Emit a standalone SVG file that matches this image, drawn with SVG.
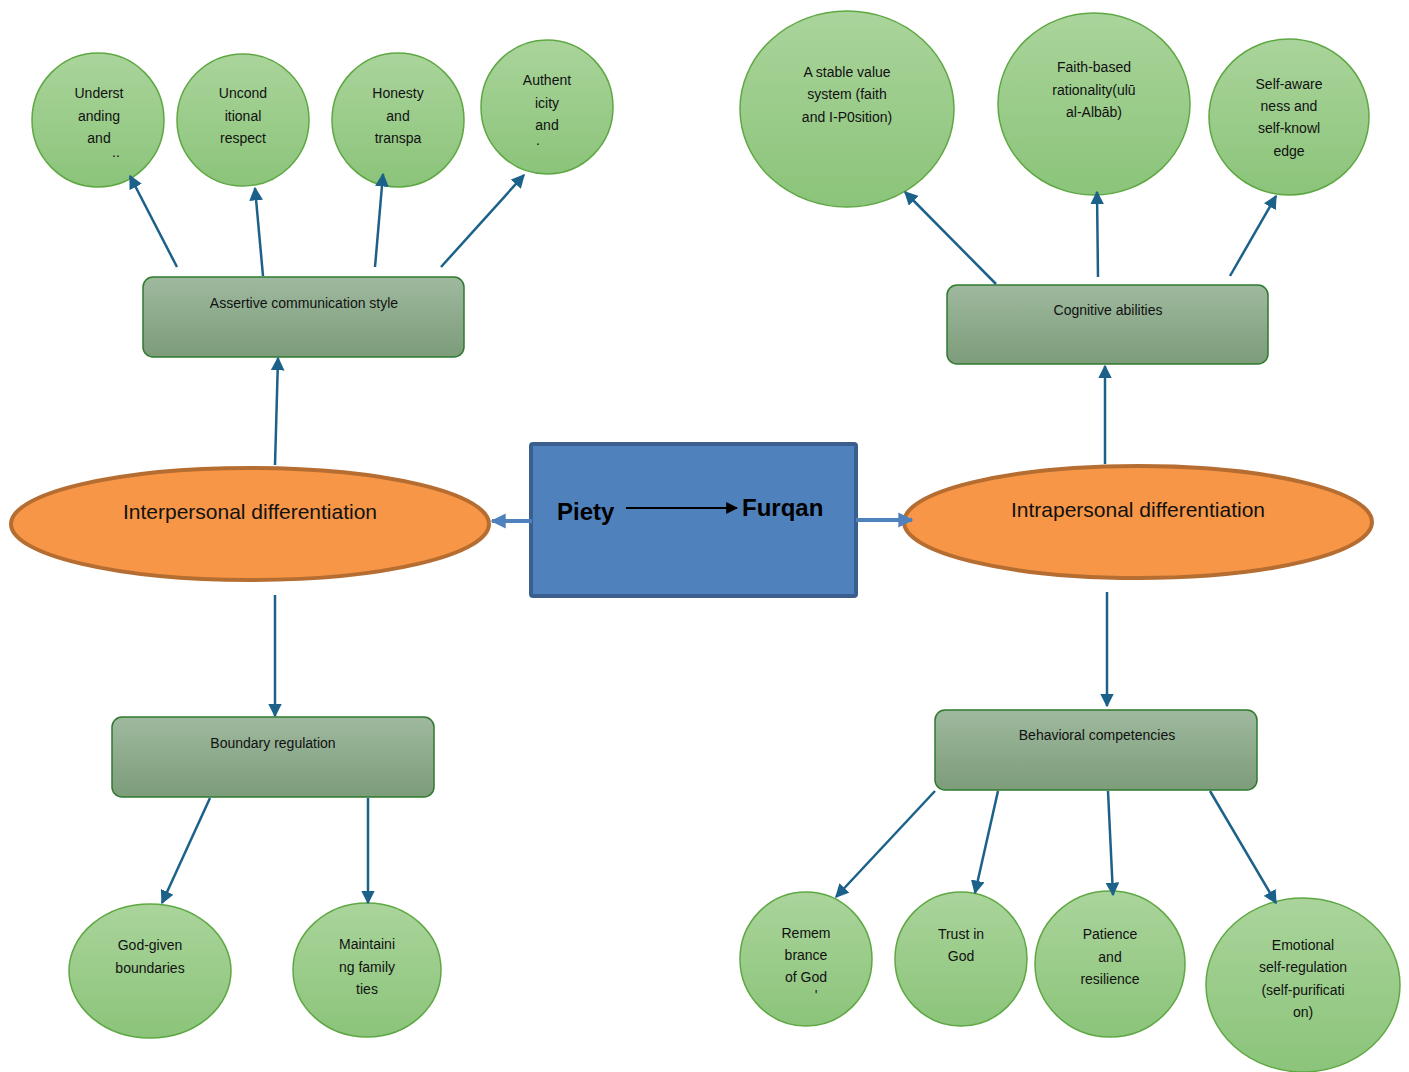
<svg xmlns="http://www.w3.org/2000/svg" width="1409" height="1072" viewBox="0 0 1409 1072">
<defs>
<linearGradient id="gCircle" x1="0" y1="0" x2="0" y2="1">
<stop offset="0" stop-color="#aad49b"/>
<stop offset="1" stop-color="#8bc47a"/>
</linearGradient>
<linearGradient id="gBox" x1="0" y1="0" x2="0" y2="1">
<stop offset="0" stop-color="#9fb99e"/>
<stop offset="1" stop-color="#7c9c7a"/>
</linearGradient>
<marker id="ah" viewBox="0 0 10 10" refX="9" refY="5" markerWidth="5.5" markerHeight="5.5" orient="auto" markerUnits="strokeWidth">
<path d="M0,0 L10,5 L0,10 z" fill="#1b6189"/>
</marker>
<marker id="ahBlue" viewBox="0 0 10 10" refX="9" refY="5" markerWidth="4.5" markerHeight="3.8" orient="auto" markerUnits="strokeWidth">
<path d="M0,0 L10,5 L0,10 z" fill="#4f81bd"/>
</marker>
<marker id="ahBlack" viewBox="0 0 10 10" refX="9" refY="5" markerWidth="6" markerHeight="6" orient="auto" markerUnits="strokeWidth">
<path d="M0,0 L10,5 L0,10 z" fill="#000"/>
</marker>
<filter id="sh" x="-20%" y="-100%" width="140%" height="400%">
<feGaussianBlur stdDeviation="1.5"/>
</filter>
</defs>
<style>
.circ{fill:url(#gCircle);stroke:#5ea843;stroke-width:1.5}
.box{fill:url(#gBox);stroke:#2f7a2f;stroke-width:1.5}
.oval{fill:#f79646;stroke:#b66d31;stroke-width:4}
.t{font-family:"Liberation Sans",Arial,sans-serif;font-size:14px;fill:#111;text-anchor:middle}
.big{font-family:"Liberation Sans",Arial,sans-serif;font-size:21px;fill:#111;text-anchor:middle}
.pf{font-family:"Liberation Sans",Arial,sans-serif;font-size:24px;font-weight:bold;fill:#000}
.c{stroke:#1b6189;stroke-width:2.5;fill:none;marker-end:url(#ah)}
</style>

<g id="center">
<rect x="531" y="444" width="325" height="152" fill="#4f81bd" stroke="#3a5f8e" stroke-width="4" rx="2"/>
<text class="pf" x="557" y="520">Piety</text>
<line x1="626" y1="508" x2="737" y2="508" stroke="#000" stroke-width="2" marker-end="url(#ahBlack)"/>
<text class="pf" x="742" y="516">Furqan</text>
</g>

<g id="interpersonal">
<ellipse class="oval" cx="250" cy="524" rx="239" ry="56"/>
<text class="big" x="250" y="519">Interpersonal differentiation</text>
</g>
<g id="intrapersonal">
<ellipse class="oval" cx="1138" cy="522" rx="234" ry="56"/>
<text class="big" x="1138" y="517">Intrapersonal differentiation</text>
</g>

<g id="assertive">
<rect class="box" x="143" y="277" width="321" height="80" rx="10"/>
<text class="t" x="304" y="308">Assertive communication style</text>
</g>
<g id="cognitive">
<rect class="box" x="947" y="285" width="321" height="79" rx="10"/>
<text class="t" x="1108" y="315">Cognitive abilities</text>
</g>
<g id="boundary">
<rect class="box" x="112" y="717" width="322" height="80" rx="10"/>
<text class="t" x="273" y="748">Boundary regulation</text>
</g>
<g id="behavioral">
<rect class="box" x="935" y="710" width="322" height="80" rx="10"/>
<text class="t" x="1097" y="740">Behavioral competencies</text>
</g>

<g id="understanding">
<ellipse class="circ" cx="98" cy="120" rx="66" ry="67"/>
<text class="t" x="99" y="98">Underst</text>
<text class="t" x="99" y="121">anding</text>
<text class="t" x="99" y="143">and</text>
<text class="t" x="116" y="157">..</text>
</g>
<g id="unconditional">
<ellipse class="circ" cx="243" cy="120" rx="66" ry="66"/>
<text class="t" x="243" y="98">Uncond</text>
<text class="t" x="243" y="121">itional</text>
<text class="t" x="243" y="143">respect</text>
</g>
<g id="honesty">
<ellipse class="circ" cx="398" cy="120" rx="66" ry="67"/>
<text class="t" x="398" y="98">Honesty</text>
<text class="t" x="398" y="121">and</text>
<text class="t" x="398" y="143">transpa</text>
</g>
<g id="authenticity">
<ellipse class="circ" cx="547" cy="107" rx="66" ry="67"/>
<text class="t" x="547" y="85">Authent</text>
<text class="t" x="547" y="108">icity</text>
<text class="t" x="547" y="130">and</text>
<text class="t" x="538" y="145">.</text>
</g>

<g id="stablevalue">
<ellipse class="circ" cx="847" cy="109" rx="107" ry="98"/>
<text class="t" x="847" y="77">A stable value</text>
<text class="t" x="847" y="99">system (faith</text>
<text class="t" x="847" y="122">and I-P0sition)</text>
</g>
<g id="faithbased">
<ellipse class="circ" cx="1094" cy="104" rx="96" ry="91"/>
<text class="t" x="1094" y="72">Faith-based</text>
<text class="t" x="1094" y="95">rationality(ulū</text>
<text class="t" x="1094" y="117">al-Albāb)</text>
</g>
<g id="selfaware">
<ellipse class="circ" cx="1289" cy="117" rx="80" ry="78"/>
<text class="t" x="1289" y="89">Self-aware</text>
<text class="t" x="1289" y="111">ness and</text>
<text class="t" x="1289" y="133">self-knowl</text>
<text class="t" x="1289" y="156">edge</text>
</g>

<g id="godgiven">
<ellipse class="circ" cx="150" cy="971" rx="81" ry="67"/>
<text class="t" x="150" y="950">God-given</text>
<text class="t" x="150" y="973">boundaries</text>
</g>
<g id="family">
<ellipse class="circ" cx="367" cy="970" rx="74" ry="67"/>
<text class="t" x="367" y="949">Maintaini</text>
<text class="t" x="367" y="972">ng family</text>
<text class="t" x="367" y="994">ties</text>
</g>

<g id="remembrance">
<ellipse class="circ" cx="806" cy="959" rx="66" ry="67"/>
<text class="t" x="806" y="938">Remem</text>
<text class="t" x="806" y="960">brance</text>
<text class="t" x="806" y="982">of God</text>
<text class="t" x="816" y="1000">'</text>
</g>
<g id="trust">
<ellipse class="circ" cx="961" cy="959" rx="66" ry="67"/>
<text class="t" x="961" y="939">Trust in</text>
<text class="t" x="961" y="961">God</text>
</g>
<g id="patience">
<ellipse class="circ" cx="1110" cy="964" rx="75" ry="73"/>
<text class="t" x="1110" y="939">Patience</text>
<text class="t" x="1110" y="962">and</text>
<text class="t" x="1110" y="984">resilience</text>
</g>
<g id="emotional">
<ellipse class="circ" cx="1303" cy="985" rx="97" ry="87"/>
<text class="t" x="1303" y="950">Emotional</text>
<text class="t" x="1303" y="972">self-regulation</text>
<text class="t" x="1303" y="995">(self-purificati</text>
<text class="t" x="1303" y="1017">on)</text>
</g>

<g id="connectors">
<line class="c" x1="177" y1="267" x2="130" y2="176"/>
<line class="c" x1="263" y1="276" x2="255" y2="188"/>
<line class="c" x1="375" y1="267" x2="383" y2="174"/>
<line class="c" x1="441" y1="267" x2="524" y2="175"/>
<line class="c" x1="275" y1="465" x2="278" y2="358"/>
<line class="c" x1="996" y1="284" x2="905" y2="192"/>
<line class="c" x1="1098" y1="277" x2="1097" y2="192"/>
<line class="c" x1="1230" y1="276" x2="1276" y2="196"/>
<line class="c" x1="1105" y1="464" x2="1105" y2="366"/>
<line class="c" x1="275" y1="595" x2="275" y2="716"/>
<line class="c" x1="210" y1="798" x2="162" y2="903"/>
<line class="c" x1="368" y1="798" x2="368" y2="903"/>
<line class="c" x1="1107" y1="592" x2="1107" y2="706"/>
<line class="c" x1="935" y1="791" x2="836" y2="897"/>
<line class="c" x1="998" y1="791" x2="975" y2="893"/>
<line class="c" x1="1108" y1="791" x2="1113" y2="895"/>
<line class="c" x1="1210" y1="791" x2="1276" y2="903"/>
<line x1="532" y1="524" x2="496" y2="524" stroke="#888" stroke-width="4" opacity="0.5" filter="url(#sh)"/>
<line x1="857" y1="523" x2="905" y2="523" stroke="#888" stroke-width="4" opacity="0.5" filter="url(#sh)"/>
<line x1="532" y1="521" x2="492" y2="521" stroke="#4f81bd" stroke-width="4" marker-end="url(#ahBlue)"/>
<line x1="856" y1="520" x2="912" y2="520" stroke="#4f81bd" stroke-width="4" marker-end="url(#ahBlue)"/>
</g>
</svg>
